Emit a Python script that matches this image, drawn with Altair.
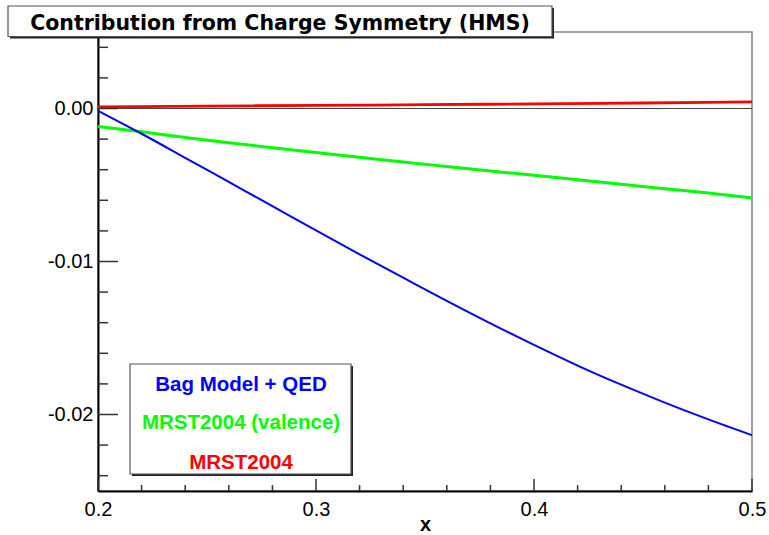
import altair as alt
import pandas as pd

# ---- data ----
X_GRID = [0.20, 0.22, 0.24, 0.26, 0.28, 0.30, 0.32, 0.34, 0.36, 0.38,
          0.40, 0.42, 0.44, 0.46, 0.48, 0.50]
BAG_QED = [-0.00015, -0.00165, -0.00322, -0.00480, -0.00638, -0.00797,
           -0.00953, -0.01106, -0.01258, -0.01405, -0.01545, -0.01680,
           -0.01805, -0.01922, -0.02032, -0.02135]
MRST_VAL = [-0.00117, -0.00152, -0.00190, -0.00224, -0.00256, -0.00288,
            -0.00319, -0.00350, -0.00379, -0.00408, -0.00437, -0.00466,
            -0.00495, -0.00524, -0.00553, -0.00584]
X_RED = [0.20, 0.25, 0.30, 0.35, 0.40, 0.45, 0.50]
MRST = [0.00010, 0.00016, 0.00020, 0.00025, 0.00030, 0.00036, 0.00043]

SERIES = ["Bag Model + QED", "MRST2004 (valence)", "MRST2004"]
COLORS = ["#0000ff", "#00ff00", "#ff0000"]
TITLE = "Contribution from Charge Symmetry (HMS)"

X_MAJOR = [0.2, 0.3, 0.4, 0.5]
X_MINOR = [0.22, 0.24, 0.26, 0.28, 0.32, 0.34, 0.36, 0.38,
           0.42, 0.44, 0.46, 0.48]
Y_MAJOR = [-0.02, -0.01, 0.0]
Y_MINOR = [-0.024, -0.022, -0.018, -0.016, -0.014, -0.012,
           -0.008, -0.006, -0.004, -0.002, 0.002, 0.004]

W, H = 654, 459

rows = []
for x, v in zip(X_GRID, BAG_QED):
    rows.append({"x": x, "y": v, "s": SERIES[0]})
for x, v in zip(X_GRID, MRST_VAL):
    rows.append({"x": x, "y": v, "s": SERIES[1]})
for x, v in zip(X_RED, MRST):
    rows.append({"x": x, "y": v, "s": SERIES[2]})
df = pd.DataFrame(rows)

xscale = alt.Scale(domain=[0.2, 0.5], nice=False, zero=False)
yscale = alt.Scale(domain=[-0.025, 0.005], nice=False, zero=False)

FONT = "Liberation Sans"
xaxis = alt.Axis(values=X_MAJOR, format=".1f", ticks=False, tickSize=0, grid=False,
                 domainColor="black", domainWidth=2, labelFont=FONT, labelFontSize=20,
                 labelColor="black", labelPadding=8, labelFlush=False, labelOverlap=False,
                 title="x", titleFont=FONT, titleFontSize=20, titleFontWeight="bold",
                 titleColor="black", titleY=39, titleBaseline="alphabetic")
yaxis = alt.Axis(values=Y_MAJOR, ticks=False, tickSize=0, grid=False,
                 labelExpr="(datum.value < 0 ? '-' : '') + format(abs(datum.value), '.2f')",
                 domainColor="black", domainWidth=2, labelFont=FONT, labelFontSize=20,
                 labelColor="black", labelPadding=5, labelOverlap=False, title=None)

X = lambda f: alt.X(f, scale=xscale, axis=xaxis)
Y = lambda f: alt.Y(f, scale=yscale, axis=yaxis)

zero = alt.Chart(pd.DataFrame({"v": [0.0]})).mark_rule(color="#444", strokeWidth=1.2).encode(
    y=Y("v:Q"))

def curve(name, color, width):
    return alt.Chart(df).transform_filter(alt.datum.s == name).mark_line(
        color=color, strokeWidth=width, interpolate="monotone").encode(x=X("x:Q"), y=Y("y:Q"))

green = curve(SERIES[1], COLORS[1], 3)
blue = curve(SERIES[0], COLORS[0], 2)
red = curve(SERIES[2], COLORS[2], 2.8)

ymaj = alt.Chart(pd.DataFrame({"v": Y_MAJOR})).mark_rule(color="#333", strokeWidth=1.5).encode(
    y=Y("v:Q"), x=alt.value(0), x2=alt.value(20))
ymin = alt.Chart(pd.DataFrame({"v": Y_MINOR})).mark_rule(color="#333", strokeWidth=1.5).encode(
    y=Y("v:Q"), x=alt.value(0), x2=alt.value(10))
xmaj = alt.Chart(pd.DataFrame({"v": X_MAJOR})).mark_rule(color="#333", strokeWidth=1.5).encode(
    x=X("v:Q"), y=alt.value(H), y2=alt.value(H - 12))
xmin = alt.Chart(pd.DataFrame({"v": X_MINOR})).mark_rule(color="#333", strokeWidth=1.5).encode(
    x=X("v:Q"), y=alt.value(H), y2=alt.value(H - 6))

one = pd.DataFrame({"t": [TITLE]})

def box(x1, x2, y1, y2):
    shadow = alt.Chart(one).mark_rect(fill="#222").encode(
        x=alt.value(x1 + 2), x2=alt.value(x2 + 2), y=alt.value(y1 + 2), y2=alt.value(y2 + 2))
    main = alt.Chart(one).mark_rect(fill="white", stroke="#555", strokeWidth=1.2).encode(
        x=alt.value(x1), x2=alt.value(x2), y=alt.value(y1), y2=alt.value(y2))
    return shadow + main

title_box = box(-90, 454, -26, 4.5)
title_text = alt.Chart(one).mark_text(font="DejaVu Sans", fontWeight="bold", fontSize=20.5,
                                      color="black", align="center", baseline="alphabetic").encode(
    x=alt.value(182), y=alt.value(-2.5), text="t:N")

legend_box = box(32, 253, 332, 442)
leg_df = pd.DataFrame({"s": SERIES})
leg_y = [359, 396.5, 437]
leg_texts = []
for name, col, yy in zip(SERIES, COLORS, leg_y):
    leg_texts.append(alt.Chart(leg_df).transform_filter(alt.datum.s == name).mark_text(
        font=FONT, fontWeight="bold", fontSize=20.5, color=col, align="center",
        baseline="alphabetic").encode(x=alt.value(143), y=alt.value(yy), text="s:N"))

chart = alt.layer(
    zero, green, blue, red, ymaj, ymin, xmaj, xmin,
    legend_box, *leg_texts, title_box, title_text
).properties(
    width=W, height=H,
    autosize=alt.AutoSizeParams(type="none"),
    padding={"left": 98, "top": 32, "right": 17, "bottom": 44},
    background="white",
).configure_view(stroke="#888", strokeWidth=1.6)

chart.save("out.html", embed_options={"renderer": "svg", "actions": False})
